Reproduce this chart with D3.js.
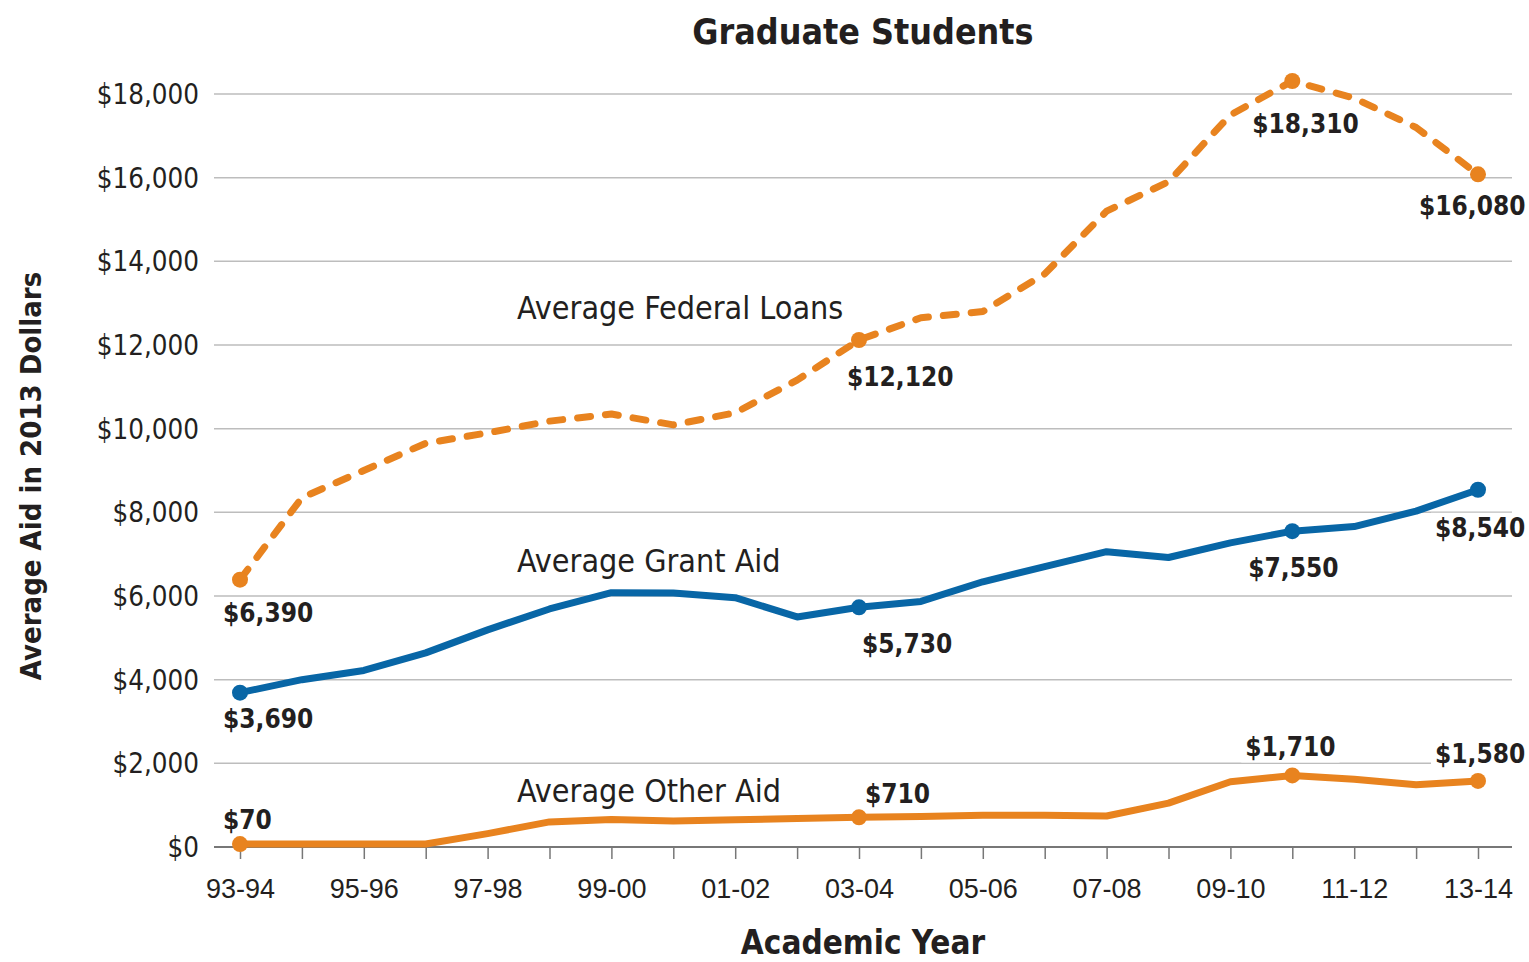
<!DOCTYPE html>
<html>
<head>
<meta charset="utf-8">
<script src="https://cdn.jsdelivr.net/npm/d3@7"></script>
<style>
  html, body { margin: 0; padding: 0; background: #fff; }
  svg { display: block; font-family: "DejaVu Sans Condensed", "Liberation Sans Narrow", sans-serif; }
</style>
</head>
<body>
<svg id="chart" width="1529" height="962"></svg>
<script>
// ---------- DATA ----------
const years = ["93-94","94-95","95-96","96-97","97-98","98-99","99-00","00-01","01-02","02-03",
               "03-04","04-05","05-06","06-07","07-08","08-09","09-10","10-11","11-12","12-13","13-14"];
const tickLabelYears = ["93-94","95-96","97-98","99-00","01-02","03-04","05-06","07-08","09-10","11-12","13-14"];
const federalLoans = [6390, 8350, 9000, 9650, 9900, 10180, 10350, 10090, 10380, 11160,
                      12120, 12650, 12800, 13700, 15200, 15900, 17500, 18310, 17900, 17200, 16080];
const grantAid     = [3690, 4000, 4220, 4640, 5190, 5690, 6080, 6070, 5960, 5500,
                      5730, 5870, 6340, 6700, 7060, 6920, 7270, 7550, 7660, 8030, 8540];
const otherAid     = [70, 70, 70, 70, 320, 600, 660, 620, 650, 680,
                      710, 730, 760, 760, 740, 1050, 1560, 1710, 1620, 1490, 1580];
const yTicks = [0, 2000, 4000, 6000, 8000, 10000, 12000, 14000, 16000, 18000];
const markedYears = ["93-94", "03-04", "10-11", "13-14"];
const titleText = "Graduate Students";
const xTitle = "Academic Year";
const yTitle = "Average Aid in 2013 Dollars";

// ---------- STYLE / LAYOUT ----------
const orange = "#E8831F", blue = "#0866A6", ink = "#231f20";
const series = [
  { name: "Average Federal Loans", values: federalLoans, color: orange, dash: "13,15",
    labelPos: { x: 517, y: 319 },
    ann: { "93-94": [-17, 42], "03-04": [-12, 46], "10-11": [-40, 52], "13-14": [-59, 41] } },
  { name: "Average Grant Aid", values: grantAid, color: blue, dash: null,
    labelPos: { x: 517, y: 572 },
    ann: { "93-94": [-17, 35], "03-04": [3, 46], "10-11": [-44, 46], "13-14": [-43, 47] } },
  { name: "Average Other Aid", values: otherAid, color: orange, dash: null,
    labelPos: { x: 517, y: 802 },
    ann: { "93-94": [-17, -15], "03-04": [6, -14], "10-11": [-47, -19], "13-14": [-43, -18] } }
];

const fmt = v => "$" + d3.format(",")(v);

const svg = d3.select("#chart");
const gridLeft = 214, gridRight = 1512;

const x = d3.scalePoint().domain(years).range([240, 1478]);
const y = d3.scaleLinear().domain([0, 18000]).range([847, 94]);

// gridlines
svg.append("g").selectAll("line").data(yTicks.filter(d => d > 0)).join("line")
  .attr("x1", gridLeft).attr("x2", gridRight)
  .attr("y1", d => y(d)).attr("y2", d => y(d))
  .attr("stroke", "#bdbdbd").attr("stroke-width", 1.5);

// y tick labels
svg.append("g").selectAll("text").data(yTicks).join("text")
  .attr("x", 199).attr("y", d => y(d)).attr("dy", "0.36em")
  .attr("text-anchor", "end").attr("font-size", 27.5).attr("fill", ink)
  .text(fmt);

// x axis
const xAxis = d3.axisBottom(x).tickSize(12).tickSizeOuter(0)
  .tickFormat(d => tickLabelYears.includes(d) ? d : "");
const gx = svg.append("g").attr("transform", `translate(0,${y(0)})`).call(xAxis);
gx.select(".domain").attr("d", `M${gridLeft},0H${gridRight}`).attr("stroke", "#777").attr("stroke-width", 2);
gx.selectAll(".tick line").attr("stroke", "#777").attr("stroke-width", 1.5);
gx.selectAll(".tick text").attr("font-size", 27).attr("fill", ink).attr("y", 32)
  .attr("dy", "0.71em").attr("font-family", null);

// lines
const lineGen = d3.line().x((d, i) => x(years[i])).y(d => y(d));
series.forEach(s => {
  svg.append("path").datum(s.values)
    .attr("fill", "none").attr("stroke", s.color).attr("stroke-width", 7)
    .attr("stroke-linejoin", "round")
    .attr("stroke-linecap", s.dash ? "round" : "butt")
    .attr("stroke-dasharray", s.dash)
    .attr("d", lineGen);
  svg.append("g").selectAll("circle").data(markedYears).join("circle")
    .attr("cx", d => x(d)).attr("cy", d => y(s.values[years.indexOf(d)]))
    .attr("r", 8).attr("fill", s.color);
});

// annotations (with white background)
series.forEach(s => {
  markedYears.forEach(yr => {
    const v = s.values[years.indexOf(yr)];
    const off = s.ann[yr];
    const g = svg.append("g");
    const t = g.append("text")
      .attr("x", x(yr) + off[0]).attr("y", y(v) + off[1])
      .attr("font-size", 26).attr("font-weight", "bold").attr("fill", ink)
      .text(fmt(v));
    const bb = t.node().getBBox();
    g.insert("rect", "text").attr("x", bb.x - 4).attr("y", bb.y).attr("width", bb.width + 8)
      .attr("height", bb.height).attr("fill", "#fff");
  });
  svg.append("text").attr("x", s.labelPos.x).attr("y", s.labelPos.y)
    .attr("font-size", 32).attr("fill", ink).text(s.name);
});

// titles
svg.append("text").attr("x", 863).attr("y", 44).attr("text-anchor", "middle")
  .attr("font-size", 35.5).attr("font-weight", "bold").attr("fill", ink).text(titleText);
svg.append("text").attr("x", 863).attr("y", 954).attr("text-anchor", "middle")
  .attr("font-size", 33).attr("font-weight", "bold").attr("fill", ink).text(xTitle);
svg.append("text").attr("transform", "translate(41,476) rotate(-90)").attr("text-anchor", "middle")
  .attr("font-size", 29).attr("font-weight", "bold").attr("fill", ink).text(yTitle);
</script>
</body>
</html>
